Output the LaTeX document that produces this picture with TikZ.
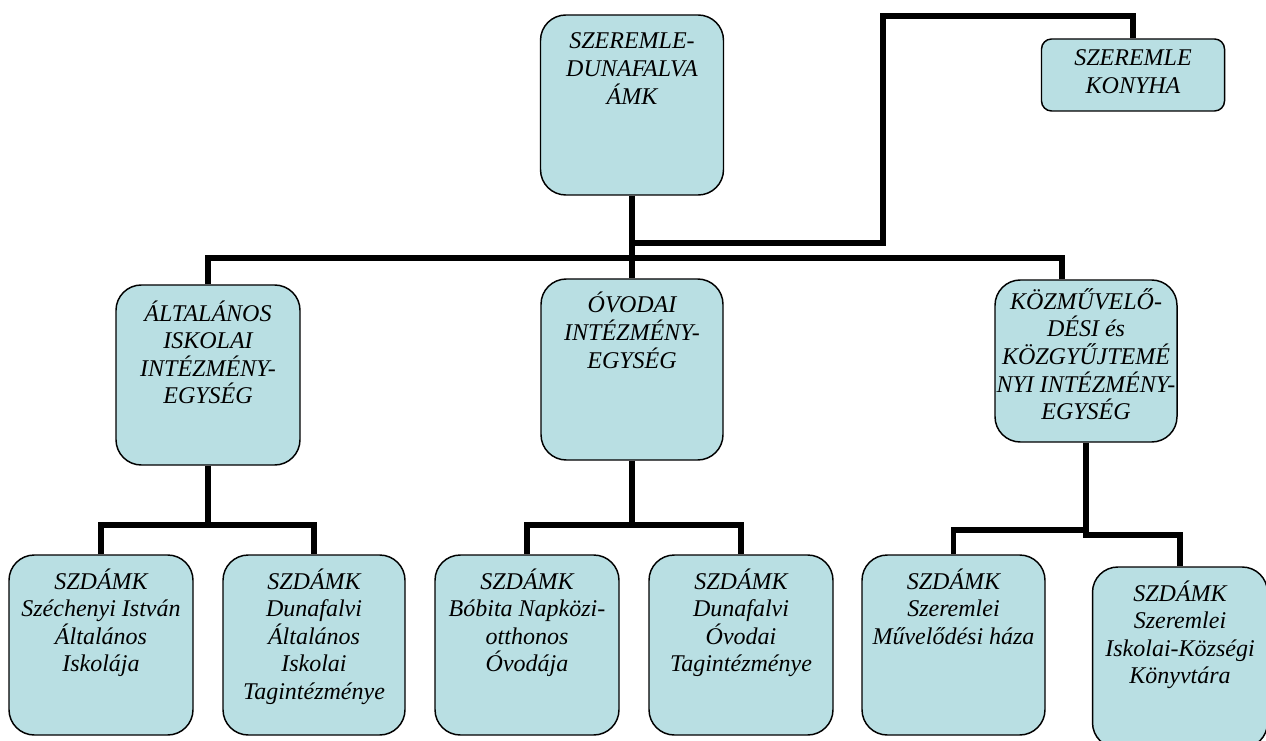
\documentclass[tikz,border=0pt]{standalone}
\usepackage{fontspec}
\setmainfont{Liberation Serif}
\usetikzlibrary{positioning}
\definecolor{unitfill}{RGB}{185,223,227}
\newcommand\boxtxt[4][25.5pt]{\parbox[c][#3][t]{#2}{\centering\rule{0pt}{#1}#4}}

\begin{document}
\begin{tikzpicture}[x = 0.75pt, y = 0.75pt,
	unit/.style = {draw, fill = unitfill, line width = 1.1pt, rounded corners = 19pt, inner sep = 0pt, font = \fontsize{18}{20.7}\selectfont\itshape},
	link/.style = {line width = 4.2pt}]
	\useasboundingbox (0,0) rectangle (1266,740);
	% top level
	\node[unit] (root) at (632,635) {\boxtxt{137.25pt}{135pt}{SZEREMLE-\\DUNAFALVA\\ÁMK}};
	\node[unit, rounded corners = 7.5pt] (konyha) at (1133,665) {\boxtxt[20pt]{137.25pt}{54pt}{SZEREMLE\\KONYHA}};
	% units
	\node[unit] (altalanos) at (208,365) {\boxtxt[27pt]{138pt}{135pt}{ÁLTALÁNOS\\ISKOLAI\\INTÉZMÉNY-\\EGYSÉG}};
	\node[unit] (ovoda) at (632,370.5) {\boxtxt{136.5pt}{135.75pt}{ÓVODAI\\INTÉZMÉNY-\\EGYSÉG}};
	\node[unit] (kozmuv) at (1086,379) {\boxtxt[22pt]{136.5pt}{121.5pt}{KÖZMŰVELŐ-\\DÉSI és\\KÖZGYŰJTEMÉ\\NYI INTÉZMÉNY-\\EGYSÉG}};
	% member institutions
	\node[unit] (isk1) at (101,95) {\boxtxt{138pt}{135pt}{SZDÁMK\\Széchenyi István\\Általános\\Iskolája}};
	\node[unit] (isk2) at (314,95) {\boxtxt{136.5pt}{135pt}{SZDÁMK\\Dunafalvi\\Általános\\Iskolai\\Tagintézménye}};
	\node[unit] (ovi1) at (527,95) {\boxtxt{138pt}{135pt}{SZDÁMK\\Bóbita Napközi-\\otthonos\\Óvodája}};
	\node[unit] (ovi2) at (741,95) {\boxtxt{138pt}{135pt}{SZDÁMK\\Dunafalvi\\Óvodai\\Tagintézménye}};
	\node[unit] (kult1) at (953.5,95) {\boxtxt{137.25pt}{135pt}{SZDÁMK\\Szeremlei\\Művelődési háza}};
	\node[unit] (kult2) at (1180,82.5) {\boxtxt{131.25pt}{135.75pt}{SZDÁMK\\Szeremlei\\Iskolai-Községi\\Könyvtára}};
	% joints
	\coordinate (kbend) at (883,497);
	\coordinate (ktop) at (883,724);
	\coordinate (bus) at (632,482);
	\coordinate (abus) at (208,215);
	\coordinate (obus) at (632,215);
	\coordinate (kbus) at (1086,210);
	% connectors
	\draw[link] (root.south) |- (kbend) -- (ktop) -| (konyha.north);
	\draw[link] (root.south) -- (ovoda.north);
	\draw[link] (altalanos.north) |- (bus) -| ([xshift = -18pt]kozmuv.north);
	\draw[link] (altalanos.south) -- (abus);
	\draw[link] (isk1.north) |- (abus) -| (isk2.north);
	\draw[link] (ovoda.south) -- (obus);
	\draw[link] (ovi1.north) |- (obus) -| (ovi2.north);
	\draw[link] (kozmuv.south) -- (kbus);
	\draw[link] (kult1.north) |- (kbus) -- ++(0,-5) -| (kult2.north);
\end{tikzpicture}
\end{document}
